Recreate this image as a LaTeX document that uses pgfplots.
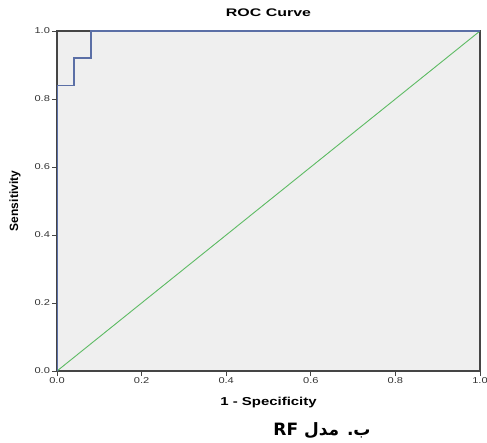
\documentclass[border=0pt]{standalone}
\usepackage{fontspec}
\setmainfont{Liberation Sans}
\newfontfamily\tickfont[FakeStretch=1.3]{Liberation Sans}
\newfontfamily\labelfont[FakeStretch=1.3]{Liberation Sans}
\newfontfamily\titlefont[FakeStretch=1.45]{Liberation Sans}
\newfontfamily\arabicfont[Script=Arabic]{DejaVu Sans}
\TeXXeTstate=1
\usepackage{pgfplots}
\pgfplotsset{compat=1.18}
\definecolor{rocblue}{HTML}{5B6FA6}
\definecolor{refgreen}{HTML}{5DBB63}
\definecolor{plotbg}{HTML}{EFEFEF}
\definecolor{axgray}{HTML}{454545}
\begin{document}
\begin{tikzpicture}
\begin{axis}[
    scale only axis,
    width=423pt, height=340pt,
    xmin=0, xmax=1, ymin=0, ymax=1,
    axis background/.style={fill=plotbg},
    axis line style={axgray, line width=1.2pt},
    xtick={0,0.2,0.4,0.6,0.8,1},
    ytick={0,0.2,0.4,0.6,0.8,1},
    tick align=outside,
    major tick length=4.5pt,
    tick style={axgray, line width=0.9pt},
    xtick pos=bottom, ytick pos=left,
    /pgf/number format/assume math mode=true,
    /pgf/number format/.cd, fixed, fixed zerofill, precision=1, /pgfplots/.cd,
    tick label style={font=\tickfont\fontsize{8.5}{10}\selectfont, text=black!80},
    xticklabel style={yshift=1pt},
    yticklabel style={xshift=1pt},
]
\addplot[refgreen, line width=0.9pt] coordinates {(0,0) (1,1)};
\addplot[rocblue, line width=1.5pt] coordinates {
    (0,0) (0,0.84) (0.04,0.84) (0.04,0.92) (0.08,0.92) (0.08,1) (1,1)
};
\end{axis}
\node[font=\titlefont\bfseries\fontsize{11}{13}\selectfont] at (211.5pt,358pt) {ROC Curve};
\node[font=\labelfont\bfseries\fontsize{11.5}{13}\selectfont] at (211.5pt,-32pt) {1 - Specificity};
\node[font=\bfseries\fontsize{12}{14}\selectfont, rotate=90] at (-42pt,170pt) {Sensitivity};
\node[font=\fontsize{17}{20}\selectfont\arabicfont\bfseries] at (265pt,-60pt)
    {\beginR ب. مدل \beginL RF\endL\endR};
\pgfresetboundingbox
\useasboundingbox (-57pt,-71pt) rectangle (430pt,371pt);
\end{tikzpicture}
\end{document}
